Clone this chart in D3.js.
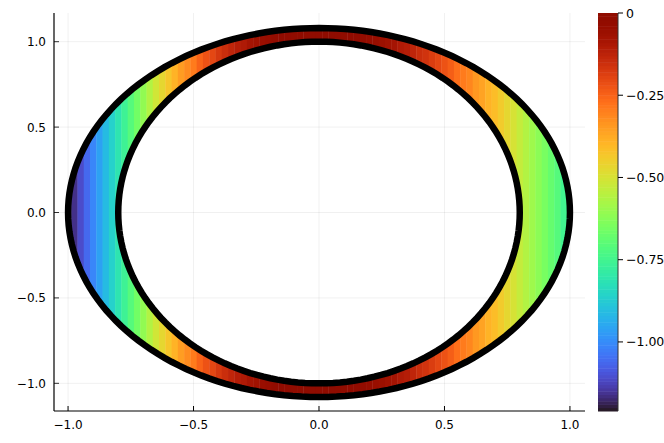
<!DOCTYPE html>
<html>
<head>
<meta charset="utf-8">
<script src="https://cdn.jsdelivr.net/npm/d3@7"></script>
<style>
  body { margin: 0; background: #fff; }
  svg { display: block; font-family: "DejaVu Sans", sans-serif; }
</style>
</head>
<body>
<svg id="chart" width="664" height="443"></svg>
<script>
// column centres of the heatmap strips (x) and the value read for each strip
const colX = d3.range(81).map(i => -1 + i * 0.025);
const colValues = [
  -1.21, -1.16, -1.11, -1.06, -1.01, -0.96, -0.91, -0.86, -0.81, -0.76,
  -0.71, -0.66, -0.61, -0.56, -0.51, -0.47, -0.43, -0.39, -0.35, -0.32,
  -0.29, -0.25, -0.22, -0.20, -0.17, -0.15, -0.13, -0.11, -0.10, -0.08,
  -0.07, -0.05, -0.04, -0.03, -0.02, -0.02, -0.01, -0.01, 0.00, 0.00,
  0.00,
  0.00, 0.00, -0.01, -0.01, -0.02, -0.02, -0.03, -0.04, -0.05, -0.06,
  -0.07, -0.08, -0.10, -0.11, -0.13, -0.15, -0.16, -0.18, -0.20, -0.22,
  -0.24, -0.27, -0.29, -0.31, -0.34, -0.36, -0.39, -0.41, -0.44, -0.47,
  -0.50, -0.53, -0.56, -0.59, -0.62, -0.65, -0.68, -0.71, -0.75, -0.78
];
// ring boundaries (semi-axes)
const outerAxes = [1.0, 1.08];
const innerAxes = [0.8, 1.0];

const xTicks = [-1.0, -0.5, 0.0, 0.5, 1.0];
const yTicks = [-1.0, -0.5, 0.0, 0.5, 1.0];
const cbTicks = [0, -0.25, -0.5, -0.75, -1.0];
const cbMin = -1.21, cbMax = 0;

const svg = d3.select('#chart');
const margin = { top: 13, left: 54, right: 585, bottom: 411 };

const x = d3.scaleLinear().domain([-1.056, 1.06]).range([margin.left, margin.right]);
const y = d3.scaleLinear().domain([-1.162, 1.168]).range([margin.bottom, margin.top]);
const color = d3.scaleSequential(d3.interpolateTurbo).domain([cbMin, cbMax]);

const fmt = v => (v === 0 ? '0.0' : d3.format('.1f')(v).replace('-', '\u2212'));

// grid
svg.append('g')
  .selectAll('line')
  .data(xTicks)
  .enter()
  .append('line')
  .attr('x1', d => x(d)).attr('x2', d => x(d))
  .attr('y1', margin.top).attr('y2', margin.bottom)
  .attr('stroke', '#000').attr('stroke-opacity', 0.1).attr('stroke-width', 0.6);
svg.append('g')
  .selectAll('line')
  .data(yTicks)
  .enter()
  .append('line')
  .attr('x1', margin.left).attr('x2', margin.right)
  .attr('y1', d => y(d)).attr('y2', d => y(d))
  .attr('stroke', '#000').attr('stroke-opacity', 0.1).attr('stroke-width', 0.6);

// ellipse path in data coordinates
const ellipsePts = (a, b) => d3.range(0, 361, 2).map(t => {
  const r = t * Math.PI / 180;
  return [x(a * Math.cos(r)), y(b * Math.sin(r))];
});
const line = d3.line();

// clip for the ring
svg.append('defs')
  .append('clipPath')
  .attr('id', 'ring')
  .append('path')
  .attr('clip-rule', 'evenodd')
  .attr('d', line(ellipsePts(...outerAxes)) + 'Z' + line(ellipsePts(...innerAxes)) + 'Z');

const dx = 0.025;
svg.append('g')
  .attr('clip-path', 'url(#ring)')
  .selectAll('rect')
  .data(colX)
  .enter()
  .append('rect')
  .attr('x', d => x(d - dx / 2))
  .attr('width', x(dx) - x(0) + 0.4)
  .attr('y', y(1.15))
  .attr('height', y(-1.15) - y(1.15))
  .attr('fill', (d, i) => color(colValues[i]));

// black outlines
[outerAxes, innerAxes].forEach(ax => {
  svg.append('path')
    .attr('d', line(ellipsePts(...ax)) + 'Z')
    .attr('fill', 'none')
    .attr('stroke', '#000')
    .attr('stroke-width', 6.5);
});

// axes
svg.append('line')
  .attr('x1', margin.left).attr('x2', margin.left)
  .attr('y1', margin.top).attr('y2', margin.bottom)
  .attr('stroke', '#000').attr('stroke-width', 1.2);
svg.append('line')
  .attr('x1', margin.left).attr('x2', margin.right)
  .attr('y1', margin.bottom).attr('y2', margin.bottom)
  .attr('stroke', '#000').attr('stroke-width', 1.2);

const xt = svg.append('g').selectAll('g').data(xTicks).enter().append('g');
xt.append('line')
  .attr('x1', d => x(d)).attr('x2', d => x(d))
  .attr('y1', margin.bottom).attr('y2', margin.bottom - 5)
  .attr('stroke', '#000').attr('stroke-width', 1);
xt.append('text')
  .attr('x', d => x(d)).attr('y', margin.bottom + 18)
  .attr('text-anchor', 'middle')
  .style('font-size', '12px')
  .text(fmt);

const yt = svg.append('g').selectAll('g').data(yTicks).enter().append('g');
yt.append('line')
  .attr('x1', margin.left).attr('x2', margin.left + 5)
  .attr('y1', d => y(d)).attr('y2', d => y(d))
  .attr('stroke', '#000').attr('stroke-opacity', 0.8).attr('stroke-width', 1);
yt.append('text')
  .attr('x', margin.left - 8).attr('y', d => y(d) + 4.5)
  .attr('text-anchor', 'end')
  .style('font-size', '12px')
  .text(fmt);

// colorbar
const cbX = 598, cbW = 20;
const cy = d3.scaleLinear().domain([cbMin, cbMax]).range([margin.bottom, margin.top]);
const cbSteps = d3.range(cbMin, cbMax, 0.01);
svg.append('g')
  .selectAll('rect')
  .data(cbSteps)
  .enter()
  .append('rect')
  .attr('x', cbX)
  .attr('width', cbW)
  .attr('y', d => cy(Math.min(d + 0.01, cbMax)))
  .attr('height', d => cy(d) - cy(Math.min(d + 0.01, cbMax)) + 0.5)
  .attr('fill', d => color(d + 0.005));
svg.append('line')
  .attr('x1', cbX + cbW).attr('x2', cbX + cbW)
  .attr('y1', margin.top).attr('y2', margin.bottom)
  .attr('stroke', '#333').attr('stroke-width', 1);

const ct = svg.append('g').selectAll('g').data(cbTicks).enter().append('g');
ct.append('line')
  .attr('x1', cbX + cbW).attr('x2', cbX + cbW + 5)
  .attr('y1', d => cy(d)).attr('y2', d => cy(d))
  .attr('stroke', '#000').attr('stroke-width', 1);
ct.append('text')
  .attr('x', cbX + cbW + 8).attr('y', d => cy(d) + 4.5)
  .style('font-size', '12.5px')
  .text(d => (d === 0 ? '0' : d3.format('.2f')(d).replace('-', '\u2212')));
</script>
</body>
</html>
